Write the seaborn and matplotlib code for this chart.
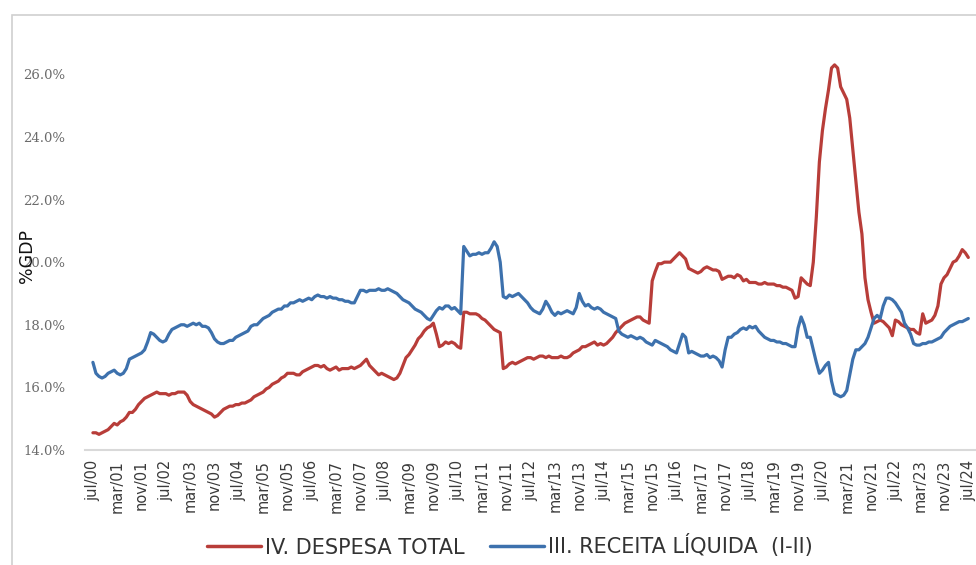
import numpy as np
import pandas as pd
import seaborn as sns
import matplotlib.pyplot as plt
from matplotlib.patches import Rectangle
from matplotlib.lines import Line2D

# Meses em português (abreviações usadas nos rótulos)
meses_pt = ["jan", "fev", "mar", "abr", "mai", "jun",
            "jul", "ago", "set", "out", "nov", "dez"]
datas = pd.date_range("2000-07-01", "2024-07-01", freq="MS")

# IV. DESPESA TOTAL (% PIB), mensal jul/00 - jul/24
despesa = [
    14.55, 14.55, 14.5, 14.55, 14.6, 14.65,  # 2000
    14.75, 14.85, 14.8, 14.9, 14.95, 15.05, 15.2, 15.2, 15.3, 15.45, 15.55, 15.65,  # 2001
    15.7, 15.75, 15.8, 15.85, 15.8, 15.8, 15.8, 15.75, 15.8, 15.8, 15.85, 15.85,  # 2002
    15.85, 15.75, 15.55, 15.45, 15.4, 15.35, 15.3, 15.25, 15.2, 15.15, 15.05, 15.1,  # 2003
    15.2, 15.3, 15.35, 15.4, 15.4, 15.45, 15.45, 15.5, 15.5, 15.55, 15.6, 15.7,  # 2004
    15.75, 15.8, 15.85, 15.95, 16.0, 16.1, 16.15, 16.2, 16.3, 16.35, 16.45, 16.45,  # 2005
    16.45, 16.4, 16.4, 16.5, 16.55, 16.6, 16.65, 16.7, 16.7, 16.65, 16.7, 16.6,  # 2006
    16.55, 16.6, 16.65, 16.55, 16.6, 16.6, 16.6, 16.65, 16.6, 16.65, 16.7, 16.8,  # 2007
    16.9, 16.7, 16.6, 16.5, 16.4, 16.45, 16.4, 16.35, 16.3, 16.25, 16.3, 16.45,  # 2008
    16.7, 16.95, 17.05, 17.2, 17.35, 17.55, 17.65, 17.8, 17.9, 17.95, 18.05, 17.7,  # 2009
    17.3, 17.35, 17.45, 17.4, 17.45, 17.4, 17.3, 17.25, 18.4, 18.4, 18.35, 18.35,  # 2010
    18.35, 18.3, 18.2, 18.15, 18.05, 17.95, 17.85, 17.8, 17.75, 16.6, 16.65, 16.75,  # 2011
    16.8, 16.75, 16.8, 16.85, 16.9, 16.95, 16.95, 16.9, 16.95, 17.0, 17.0, 16.95,  # 2012
    17.0, 16.95, 16.95, 16.95, 17.0, 16.95, 16.95, 17.0, 17.1, 17.15, 17.2, 17.3,  # 2013
    17.3, 17.35, 17.4, 17.45, 17.35, 17.4, 17.35, 17.4, 17.5, 17.6, 17.75, 17.85,  # 2014
    17.95, 18.05, 18.1, 18.15, 18.2, 18.25, 18.25, 18.15, 18.1, 18.05, 19.4, 19.7,  # 2015
    19.95, 19.95, 20.0, 20.0, 20.0, 20.1, 20.2, 20.3, 20.2, 20.1, 19.8, 19.75,  # 2016
    19.7, 19.65, 19.7, 19.8, 19.85, 19.8, 19.75, 19.75, 19.7, 19.45, 19.5, 19.55,  # 2017
    19.55, 19.5, 19.6, 19.55, 19.4, 19.45, 19.35, 19.35, 19.35, 19.3, 19.3, 19.35,  # 2018
    19.3, 19.3, 19.3, 19.25, 19.25, 19.2, 19.2, 19.15, 19.1, 18.85, 18.9, 19.5,  # 2019
    19.4, 19.3, 19.25, 20.0, 21.45, 23.2, 24.2, 24.9, 25.5, 26.2, 26.3, 26.2,  # 2020
    25.6, 25.4, 25.2, 24.6, 23.6, 22.6, 21.6, 20.9, 19.5, 18.8, 18.4, 18.05,  # 2021
    18.1, 18.15, 18.1, 18.0, 17.9, 17.65, 18.15, 18.1, 18.0, 17.95, 17.9, 17.85,  # 2022
    17.85, 17.75, 17.7, 18.35, 18.05, 18.1, 18.15, 18.3, 18.6, 19.3, 19.5, 19.6,  # 2023
    19.8, 20.0, 20.05, 20.2, 20.4, 20.3, 20.15,  # 2024
]

# III. RECEITA LÍQUIDA (I-II) (% PIB)
receita = [
    16.8, 16.45, 16.35, 16.3, 16.35, 16.45,  # 2000
    16.5, 16.55, 16.45, 16.4, 16.45, 16.6, 16.9, 16.95, 17.0, 17.05, 17.1, 17.2,  # 2001
    17.45, 17.75, 17.7, 17.6, 17.5, 17.45, 17.5, 17.7, 17.85, 17.9, 17.95, 18.0,  # 2002
    18.0, 17.95, 18.0, 18.05, 18.0, 18.05, 17.95, 17.95, 17.9, 17.75, 17.55, 17.45,  # 2003
    17.4, 17.4, 17.45, 17.5, 17.5, 17.6, 17.65, 17.7, 17.75, 17.8, 17.95, 18.0,  # 2004
    18.0, 18.1, 18.2, 18.25, 18.3, 18.4, 18.45, 18.5, 18.5, 18.6, 18.6, 18.7,  # 2005
    18.7, 18.75, 18.8, 18.75, 18.8, 18.85, 18.8, 18.9, 18.95, 18.9, 18.9, 18.85,  # 2006
    18.9, 18.85, 18.85, 18.8, 18.8, 18.75, 18.75, 18.7, 18.7, 18.9, 19.1, 19.1,  # 2007
    19.05, 19.1, 19.1, 19.1, 19.15, 19.1, 19.1, 19.15, 19.1, 19.05, 19.0, 18.9,  # 2008
    18.8, 18.75, 18.7, 18.6, 18.5, 18.45, 18.4, 18.3, 18.2, 18.15, 18.3, 18.45,  # 2009
    18.55, 18.5, 18.6, 18.6, 18.5, 18.55, 18.45, 18.35, 20.5, 20.35, 20.2, 20.25,  # 2010
    20.25, 20.3, 20.25, 20.3, 20.3, 20.45, 20.65, 20.5, 20.0, 18.9, 18.85, 18.95,  # 2011
    18.9, 18.95, 19.0, 18.9, 18.8, 18.7, 18.55, 18.45, 18.4, 18.35, 18.5, 18.75,  # 2012
    18.6, 18.4, 18.3, 18.4, 18.35, 18.4, 18.45, 18.4, 18.35, 18.55, 19.0, 18.75,  # 2013
    18.6, 18.65, 18.55, 18.5, 18.55, 18.5, 18.4, 18.35, 18.3, 18.25, 18.2, 17.8,  # 2014
    17.7, 17.65, 17.6, 17.65, 17.6, 17.55, 17.6, 17.55, 17.45, 17.4, 17.35, 17.5,  # 2015
    17.45, 17.4, 17.35, 17.3, 17.2, 17.15, 17.1, 17.4, 17.7, 17.6, 17.1, 17.15,  # 2016
    17.1, 17.05, 17.0, 17.0, 17.05, 16.95, 17.0, 16.95, 16.85, 16.65, 17.2, 17.6,  # 2017
    17.6, 17.7, 17.75, 17.85, 17.9, 17.85, 17.95, 17.9, 17.95, 17.8, 17.7, 17.6,  # 2018
    17.55, 17.5, 17.5, 17.45, 17.45, 17.4, 17.4, 17.35, 17.3, 17.3, 17.9, 18.25,  # 2019
    18.0, 17.6, 17.6, 17.2, 16.8, 16.45, 16.55, 16.7, 16.8, 16.2, 15.8, 15.75,  # 2020
    15.7, 15.75, 15.9, 16.4, 16.9, 17.2, 17.2, 17.3, 17.4, 17.6, 17.9, 18.2,  # 2021
    18.3, 18.2, 18.6, 18.85, 18.85, 18.8, 18.7, 18.55, 18.4, 18.05, 17.9, 17.7,  # 2022
    17.4, 17.35, 17.35, 17.4, 17.4, 17.45, 17.45, 17.5, 17.55, 17.6, 17.75, 17.85,  # 2023
    17.95, 18.0, 18.05, 18.1, 18.1, 18.15, 18.2,  # 2024
]

nome_despesa = "IV. DESPESA TOTAL"
nome_receita = "III. RECEITA LÍQUIDA  (I-II)"
cor_despesa = "#b83d39"
cor_receita = "#3d71ad"

# Tabela longa para o seaborn
idx = np.arange(len(datas))
df = pd.concat([
    pd.DataFrame({"mes": idx, "valor": despesa, "serie": nome_despesa}),
    pd.DataFrame({"mes": idx, "valor": receita, "serie": nome_receita}),
])

rotulos = [f"{meses_pt[d.month - 1]}/{d.strftime('%y')}" for d in datas]

sns.set_style("white")
plt.rcParams["font.family"] = ["DejaVu Sans"]

fig = plt.figure(figsize=(9.76, 5.65), dpi=100)
ax = fig.add_axes([85 / 976, 115 / 565, 890 / 976, 394.5 / 565])

sns.lineplot(
    data=df, x="mes", y="valor", hue="serie",
    palette={nome_despesa: cor_despesa, nome_receita: cor_receita},
    linewidth=2.3, ax=ax, legend=False,
)

ax.set_xlim(-2.6, 290.2)
ax.set_ylim(14, 26.6)
ticks_y = np.arange(14, 26.1, 2)
ax.set_yticks(ticks_y)
ax.set_yticklabels([f"{v:.1f}%" for v in ticks_y],
                   color="#6b6b6b", fontsize=9.5, family="DejaVu Serif")
ax.set_xticks(idx[::8])
ax.set_xticklabels(rotulos[::8], rotation=90, fontsize=10.5, color="#3a3a3a")
ax.tick_params(axis="both", length=0)
ax.tick_params(axis="y", pad=14)
ax.tick_params(axis="x", pad=7)
ax.set_xlabel("")
ax.set_ylabel("")
for lado in ["left", "right", "top"]:
    ax.spines[lado].set_visible(False)
ax.spines["bottom"].set_color("#d9d9d9")
ax.spines["bottom"].set_linewidth(1.5)

# Rótulo do eixo y (no original fica sobre o 20.0%)
fig.text(27 / 976, 1 - 256 / 565, "%GDP", rotation=90, ha="center", va="center",
         fontsize=12.5, color="#111111")

# Borda cinza do gráfico original
fig.patches.append(Rectangle((12 / 976, -0.1), 1.2, 1 - 15 / 565 + 0.1,
                             transform=fig.transFigure, fill=False,
                             edgecolor="#d0d0d0", linewidth=1.2))

# Legenda embaixo
alcas = [Line2D([0], [0], color=cor_despesa, lw=2.5),
         Line2D([0], [0], color=cor_receita, lw=2.5)]
fig.legend(alcas, [nome_despesa, nome_receita], loc="center",
           bbox_to_anchor=(510 / 976, 1 - 546 / 565), ncol=2, frameon=False,
           fontsize=15, handlelength=2.6, handletextpad=0.2, columnspacing=1.2,
           labelcolor="#333333")

fig.savefig("out.png", dpi=100)
